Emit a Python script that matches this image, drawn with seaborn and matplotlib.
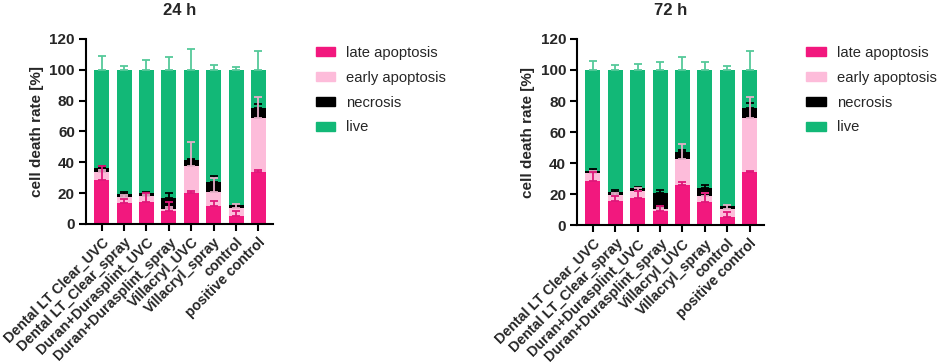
import seaborn as sns
import matplotlib.pyplot as plt
import matplotlib.transforms as mtransforms
import numpy as np
import pandas as pd

groups = ["Dental LT Clear_UVC", "Dental LT_Clear_spray", "Duran+Durasplint_UVC",
          "Duran+Durasplint_spray", "Villacryl_UVC", "Villacryl_spray",
          "control", "positive control"]

# 24 h means (%) and SD
late_24 = [28.3, 13.4, 14.0, 8.6, 19.9, 11.7, 5.2, 33.9]
early_24 = [5.3, 4.3, 4.1, 1.1, 17.8, 9.0, 5.4, 34.9]
necr_24 = [2.8, 1.7, 1.9, 7.1, 3.7, 6.5, 1.5, 6.5]
late_24_sd = [9.0, 2.6, 6.0, 5.4, 1.6, 3.4, 3.0, 1.3]
early_24_sd = [1.5, 1.0, 1.5, 1.0, 15.2, 9.0, 2.5, 13.6]
necr_24_sd = [1.0, 1.0, 0.8, 3.5, 1.0, 4.0, 0.5, 2.7]
live_24_sd = [9.0, 2.7, 6.3, 8.3, 13.5, 3.0, 1.8, 11.8]

# 72 h means (%) and SD
late_72 = [28.8, 15.5, 17.6, 9.2, 25.8, 14.8, 5.5, 34.2]
early_72 = [4.9, 4.0, 4.7, 1.3, 16.8, 4.3, 5.2, 34.6]
necr_72 = [1.5, 2.2, 1.6, 10.1, 4.7, 5.2, 1.6, 6.4]
late_72_sd = [5.4, 3.2, 4.4, 3.1, 2.3, 5.8, 3.1, 1.0]
early_72_sd = [1.0, 1.5, 1.5, 0.8, 9.9, 1.5, 2.6, 13.8]
necr_72_sd = [0.8, 0.8, 0.8, 1.9, 1.5, 1.9, 0.5, 3.3]
live_72_sd = [5.8, 3.4, 3.9, 5.4, 8.4, 5.2, 2.6, 12.0]

pal = {"late apoptosis": "#F2187E", "early apoptosis": "#FDBCDA",
       "necrosis": "#000000", "live": "#12B877"}
err_col = {"late apoptosis": "#E0177A", "early apoptosis": "#E5AFC8",
           "necrosis": "#000000", "live": "#55C99A"}

sns.set_theme(style="ticks")
plt.rcParams["font.family"] = ["Liberation Sans", "DejaVu Sans"]
plt.rcParams["font.weight"] = "bold"

fig = plt.figure(figsize=(9.41, 3.63), dpi=100)
ax1 = fig.add_axes([0.0914, 0.383, 0.1987, 0.510])
ax2 = fig.add_axes([0.6135, 0.379, 0.1985, 0.514])


def draw(ax, late, early, necr, sds, title, leg_x):
    late = np.array(late)
    c_early = late + np.array(early)
    c_necr = c_early + np.array(necr)
    live = np.full(len(groups), 100.0)
    df = pd.DataFrame({"group": groups, "live": live, "necrosis": c_necr,
                       "early apoptosis": c_early, "late apoptosis": late})
    for key in ["live", "necrosis", "early apoptosis", "late apoptosis"]:
        sns.barplot(data=df, x="group", y=key, color=pal[key], ax=ax,
                    width=0.67, saturation=1, linewidth=0, errorbar=None)
    pos = np.arange(len(groups))
    # error bars only upwards, drawn on top of the stacked segments
    for key, tops, sd in [("live", live, sds[3]), ("necrosis", c_necr, sds[2]),
                          ("early apoptosis", c_early, sds[1]),
                          ("late apoptosis", late, sds[0])]:
        sd = np.array(sd)
        ax.errorbar(pos, tops, yerr=[np.zeros_like(sd), sd], fmt="none",
                    ecolor=err_col[key], elinewidth=1.3, capsize=3,
                    capthick=1.3, zorder=5)
    ax.set_ylim(0, 120)
    ax.set_xlim(-0.7, 7.65)
    ax.set_yticks([0, 20, 40, 60, 80, 100, 120])
    ax.set_ylabel("cell death rate [%]", fontsize=11, fontweight="bold", labelpad=4)
    ax.set_xlabel("")
    ax.set_title(title, fontsize=12, fontweight="bold", pad=17)
    ax.set_xticks(pos)
    ax.set_xticklabels(groups, rotation=45, ha="right", rotation_mode="anchor",
                       fontsize=10.3, fontweight="bold")
    shift = mtransforms.ScaledTranslation(3 / 72, -1 / 72, fig.dpi_scale_trans)
    for t in ax.get_xticklabels():
        t.set_transform(t.get_transform() + shift)
    for t in ax.get_yticklabels():
        t.set_fontsize(11)
        t.set_fontweight("bold")
    ax.tick_params(axis="both", length=5, width=1.5, color="black", pad=3)
    sns.despine(ax=ax)
    for s in ["left", "bottom"]:
        ax.spines[s].set_linewidth(1.5)
        ax.spines[s].set_color("black")
    handles = [plt.Rectangle((0, 0), 1, 1, color=pal[k])
               for k in ["late apoptosis", "early apoptosis", "necrosis", "live"]]
    fig.legend(handles, ["late apoptosis", "early apoptosis", "necrosis", "live"],
               loc="upper left", bbox_to_anchor=(leg_x, 0.874), frameon=False,
               prop={"size": 10.6, "weight": "normal"}, handlelength=1.3,
               handleheight=0.6, handletextpad=0.75, labelspacing=0.74,
               borderpad=0, borderaxespad=0)


draw(ax1, late_24, early_24, necr_24,
     [late_24_sd, early_24_sd, necr_24_sd, live_24_sd], "24 h", 0.336)
draw(ax2, late_72, early_72, necr_72,
     [late_72_sd, early_72_sd, necr_72_sd, live_72_sd], "72 h", 0.857)

fig.savefig("out.png", dpi=100)
